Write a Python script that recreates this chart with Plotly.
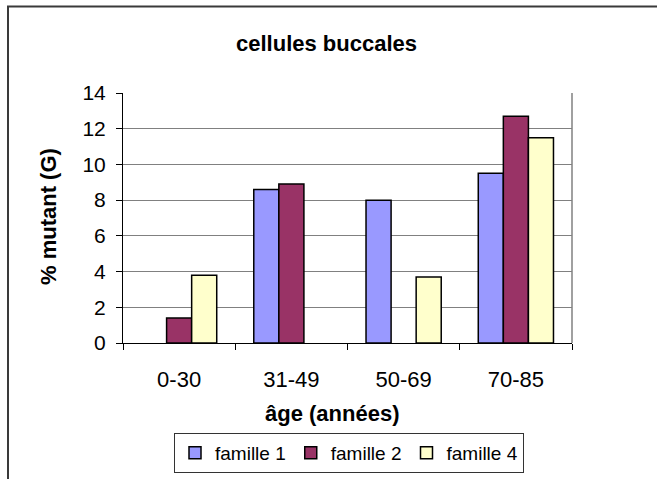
import plotly.graph_objects as go

# Age classes and mutation percentages per family
ages = ["0-30", "31-49", "50-69", "70-85"]
famille_1 = [None, 8.6, 8.0, 9.5]
famille_2 = [1.4, 8.9, None, 12.7]
famille_4 = [3.8, None, 3.7, 11.5]

series = [
    ("famille 1", famille_1, "#9999FF"),
    ("famille 2", famille_2, "#993366"),
    ("famille 4", famille_4, "#FFFFCC"),
]

W, H = 657, 479
L, R, T, B = 123, 85, 93, 136
pw, ph = W - L - R, H - T - B


def px_x(x):
    return (x - L) / pw


def px_y(y):
    return (H - B - y) / ph


FONT = "Liberation Sans, Arial, sans-serif"

fig = go.Figure()
for name, vals, color in series:
    fig.add_trace(go.Bar(
        x=ages, y=vals, name=name,
        marker=dict(color=color, line=dict(color="black", width=1.5)),
    ))

fig.update_layout(
    width=W, height=H,
    margin=dict(l=L, r=R, t=T, b=B, autoexpand=False),
    paper_bgcolor="white", plot_bgcolor="white",
    barmode="group", bargap=0.33, bargroupgap=0,
    font=dict(family=FONT, color="black", size=19),
    showlegend=True,
    legend=dict(
        orientation="h", xref="container", yref="container",
        x=349 / W, xanchor="center",
        y=(H - 433) / H, yanchor="top",
        bordercolor="#333333", borderwidth=1,
        font=dict(size=19), itemwidth=30,
        traceorder="normal",
    ),
    xaxis=dict(
        type="category", showline=True, linecolor="black", linewidth=1,
        ticks="outside", tickson="boundaries", ticklen=6, tickcolor="black",
        showgrid=False, tickfont=dict(size=22), ticklabelstandoff=17,
    ),
    yaxis=dict(
        range=[0, 14], dtick=2, showline=True, linecolor="black", linewidth=1,
        ticks="outside", ticklen=6, tickcolor="black",
        showgrid=True, gridcolor="#808080", gridwidth=1,
        tickfont=dict(size=21), zeroline=False, ticklabelstandoff=6,
    ),
)

# Right border of the plot area
fig.add_shape(type="line", xref="paper", yref="paper", x0=1, x1=1, y0=0, y1=1,
              line=dict(color="#808080", width=1.5))
# Chart frame
fig.add_shape(type="rect", xref="paper", yref="paper",
              x0=px_x(8), x1=px_x(668), y0=px_y(495), y1=px_y(6.5),
              line=dict(color="#3a3a3a", width=2))

titles = [
    ("<b>cellules buccales</b>", 326, 43, 0),
    ("<b>% mutant (G)</b>", 48, 217, -90),
    ("<b>âge (années)</b>", 332, 413, 0),
]
for text, tx, ty, angle in titles:
    fig.add_annotation(text=text, xref="paper", yref="paper",
                       x=px_x(tx), y=px_y(ty), xanchor="center", yanchor="middle",
                       showarrow=False, textangle=angle,
                       font=dict(size=22, family=FONT))

fig.write_html("out.html")
